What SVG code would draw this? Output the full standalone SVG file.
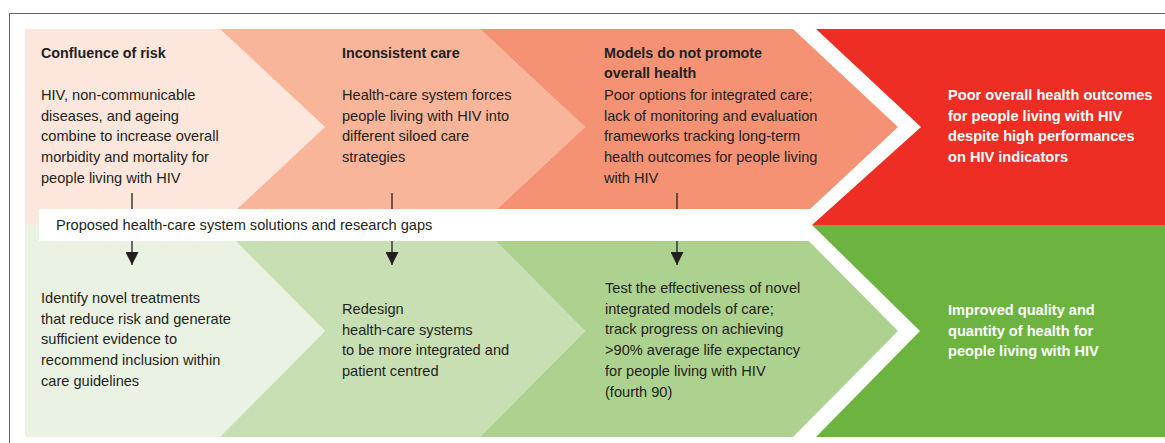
<svg xmlns="http://www.w3.org/2000/svg" width="1165" height="443" viewBox="0 0 1165 443">
  <style>
    text { font-family: "Liberation Sans", Arial, sans-serif; font-size: 14.6px; fill: #231f20; }
    .t { font-weight: bold; font-size: 14.3px; }
    .w { fill: #ffffff; font-weight: bold; font-size: 14.6px; }
    .conn { stroke: #231f20; stroke-width: 1.3; fill: none; }
  </style>
  <defs>
    <marker id="arrow" viewBox="0 0 10 10" refX="10" refY="5" markerWidth="13" markerHeight="13" markerUnits="userSpaceOnUse" orient="auto">
      <path d="M0,0 L10,5 L0,10 z" fill="#231f20"/>
    </marker>
  </defs>

  <!-- frame -->
  <path d="M9.5,443 V13.5 H1165" fill="none" stroke="#2f7d57" stroke-width="1"/>

  <!-- problem row -->
  <g id="node-confluence">
    <polygon points="25,29 220,29 325,127 220,225 25,225" fill="#fde6dc"/>
    <text class="t" x="41" y="57.5">Confluence of risk</text>
    <text x="41" y="100">HIV, non-communicable</text>
    <text x="41" y="120.7">diseases, and ageing</text>
    <text x="41" y="141.4">combine to increase overall</text>
    <text x="41" y="162.1">morbidity and mortality for</text>
    <text x="41" y="182.8">people living with HIV</text>
  </g>
  <g id="node-inconsistent">
    <polygon points="220,29 480,29 585,127 480,225 220,225 325,127" fill="#f9b59a"/>
    <text class="t" x="342" y="57.5">Inconsistent care</text>
    <text x="342" y="100">Health-care system forces</text>
    <text x="342" y="120.7">people living with HIV into</text>
    <text x="342" y="141.4">different siloed care</text>
    <text x="342" y="162.1">strategies</text>
  </g>
  <g id="node-models">
    <polygon points="480,29 793,29 898,127 793,225 480,225 585,127" fill="#f59273"/>
    <text class="t" x="604" y="57.5">Models do not promote</text>
    <text class="t" x="604" y="78.2">overall health</text>
    <text x="604" y="100">Poor options for integrated care;</text>
    <text x="604" y="120.7">lack of monitoring and evaluation</text>
    <text x="604" y="141.4">frameworks tracking long-term</text>
    <text x="604" y="162.1">health outcomes for people living</text>
    <text x="604" y="182.8">with HIV</text>
  </g>

  <!-- solution row -->
  <g id="node-identify">
    <polygon points="25,225 220,225 325,331 220,437 25,437" fill="#eaf3e3"/>
    <text x="41" y="303">Identify novel treatments</text>
    <text x="41" y="323.7">that reduce risk and generate</text>
    <text x="41" y="344.4">sufficient evidence to</text>
    <text x="41" y="365.1">recommend inclusion within</text>
    <text x="41" y="385.8">care guidelines</text>
  </g>
  <g id="node-redesign">
    <polygon points="220,225 480,225 585,331 480,437 220,437 325,331" fill="#c8dfb4"/>
    <text x="342" y="314">Redesign</text>
    <text x="342" y="334.7">health-care systems</text>
    <text x="342" y="355.4">to be more integrated and</text>
    <text x="342" y="376.1">patient centred</text>
  </g>
  <g id="node-test">
    <polygon points="480,225 793,225 898,331 793,437 480,437 585,331" fill="#add18e"/>
    <text x="605" y="293">Test the effectiveness of novel</text>
    <text x="605" y="313.7">integrated models of care;</text>
    <text x="605" y="334.4">track progress on achieving</text>
    <text x="605" y="355.1">&gt;90% average life expectancy</text>
    <text x="605" y="375.8">for people living with HIV</text>
    <text x="605" y="396.5">(fourth 90)</text>
  </g>

  <!-- solutions band -->
  <g id="node-band">
    <rect x="39" y="209" width="790" height="32" fill="#ffffff"/>
    <text x="56" y="229.5">Proposed health-care system solutions and research gaps</text>
  </g>

  <!-- outcomes -->
  <g id="node-poor">
    <polygon points="816,29 1165,29 1165,225 812,225 921,127" fill="#ee2e24"/>
    <text class="w" x="948" y="100">Poor overall health outcomes</text>
    <text class="w" x="948" y="120.7">for people living with HIV</text>
    <text class="w" x="948" y="141.4">despite high performances</text>
    <text class="w" x="948" y="162.1">on HIV indicators</text>
  </g>
  <g id="node-improved">
    <polygon points="812,225 1165,225 1165,437 816,437 920,331" fill="#6cb33f"/>
    <text class="w" x="948" y="315">Improved quality and</text>
    <text class="w" x="948" y="335.7">quantity of health for</text>
    <text class="w" x="948" y="356.4">people living with HIV</text>
  </g>

  <!-- connectors -->
  <g id="connectors">
    <line class="conn" x1="132" y1="193" x2="132" y2="209"/>
    <line class="conn" x1="132" y1="241" x2="132" y2="265" marker-end="url(#arrow)"/>
    <line class="conn" x1="392" y1="193" x2="392" y2="209"/>
    <line class="conn" x1="392" y1="241" x2="392" y2="265" marker-end="url(#arrow)"/>
    <line class="conn" x1="677" y1="193" x2="677" y2="209"/>
    <line class="conn" x1="677" y1="241" x2="677" y2="265" marker-end="url(#arrow)"/>
  </g>
</svg>
